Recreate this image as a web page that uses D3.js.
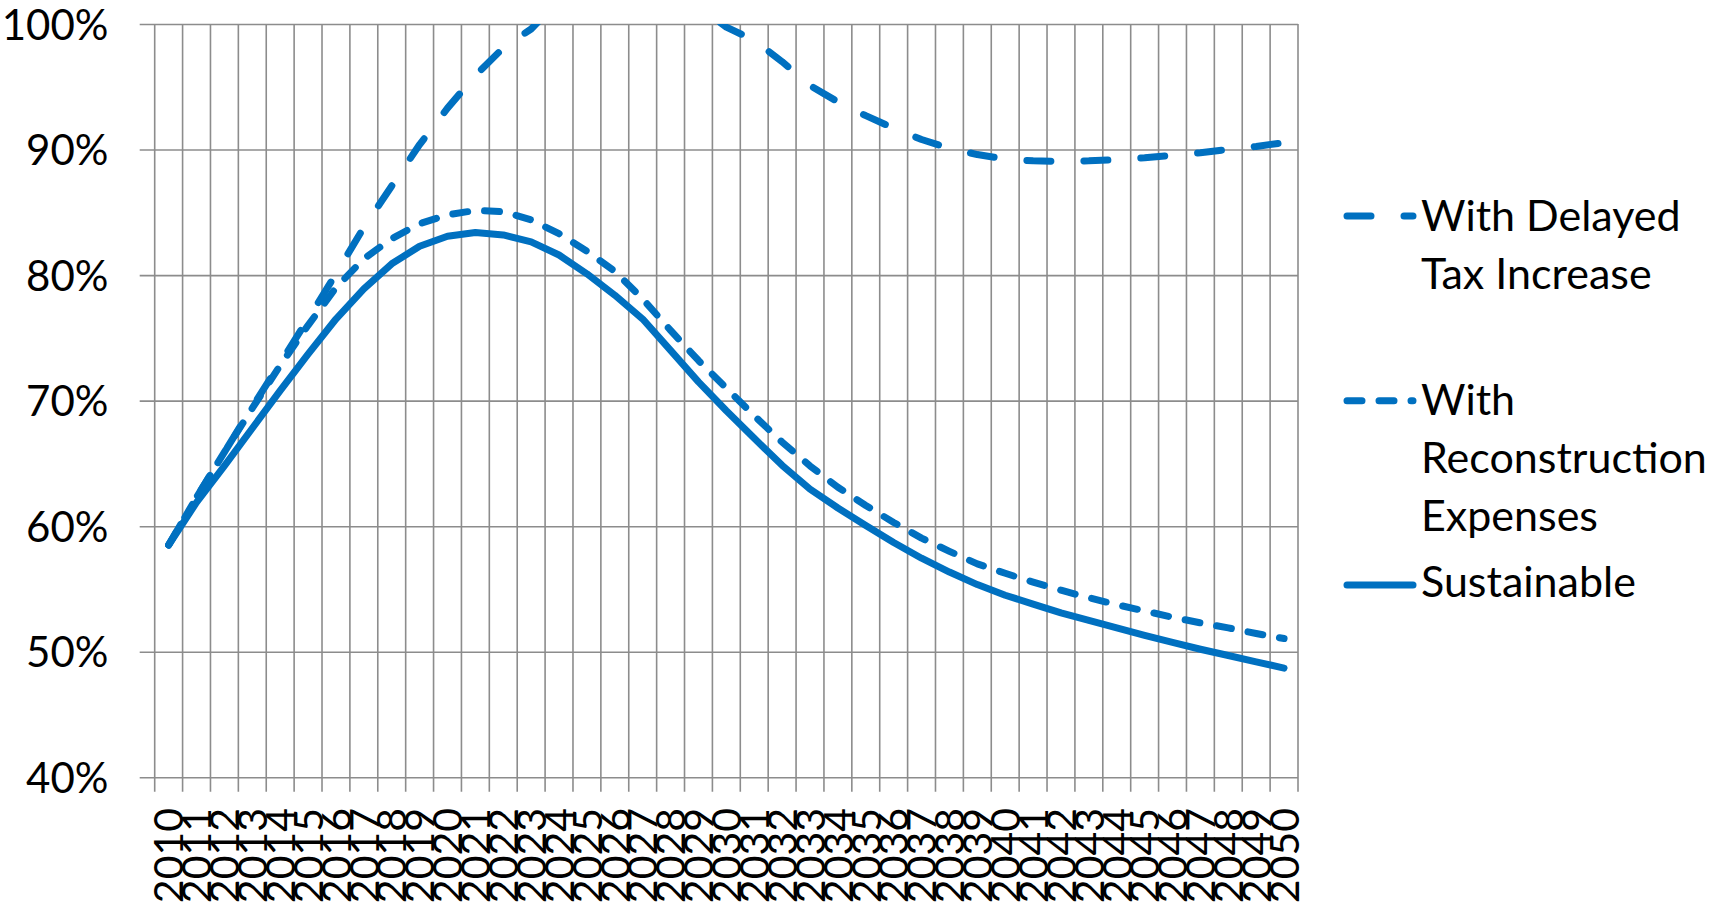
<!DOCTYPE html>
<html>
<head>
<meta charset="utf-8">
<script src="https://cdn.jsdelivr.net/npm/d3@7"></script>
<style>
  html, body { margin: 0; padding: 0; background: #ffffff; overflow: hidden; }
  svg { display: block; font-family: Lato, "Open Sans", sans-serif; }
</style>
</head>
<body>
<svg id="chart" width="1710" height="905"></svg>
<script>
// Debt ratio projections, percent, 2010-2050
const years = ["2010","2011","2012","2013","2014","2015","2016","2017","2018","2019",
               "2020","2021","2022","2023","2024","2025","2026","2027","2028","2029",
               "2030","2031","2032","2033","2034","2035","2036","2037","2038","2039",
               "2040","2041","2042","2043","2044","2045","2046","2047","2048","2049","2050"];

const delayedTax = [58.5, 62.3, 65.9, 69.5, 73.0, 76.5, 80.1, 83.8, 87.1, 90.4,
                    93.3, 95.9, 98.1, 99.6, 101.9, 103.3, 103.9, 103.7, 102.9, 101.4,
                    99.75, 98.7, 97.0, 95.1, 93.8, 92.7, 91.7, 90.8, 90.1, 89.6,
                    89.25, 89.1, 89.05, 89.1, 89.2, 89.35, 89.55, 89.75, 90.0, 90.25, 90.55];

const reconstruction = [58.5, 62.3, 65.9, 69.4, 72.8, 76.0, 79.0, 81.3, 82.9, 84.1,
                        84.8, 85.15, 85.05, 84.4, 83.3, 81.9, 80.3, 78.1, 75.6, 73.2,
                        71.0, 68.8, 66.7, 64.8, 63.1, 61.65, 60.3, 59.05, 58.0, 57.0,
                        56.25, 55.55, 54.9, 54.3, 53.75, 53.25, 52.75, 52.3, 51.9, 51.45, 51.05];

const sustainable = [58.5, 61.9, 64.8, 67.8, 70.8, 73.7, 76.5, 78.9, 80.9, 82.3,
                     83.1, 83.4, 83.2, 82.65, 81.6, 80.1, 78.4, 76.5, 74.0, 71.5,
                     69.2, 67.0, 64.85, 62.95, 61.45, 60.05, 58.7, 57.45, 56.35, 55.35,
                     54.5, 53.8, 53.1, 52.5, 51.9, 51.3, 50.75, 50.2, 49.7, 49.2, 48.7];

const yTicks = [40, 50, 60, 70, 80, 90, 100];

const legendLabels = [
  ["With Delayed", "Tax Increase"],
  ["With", "Reconstruction", "Expenses"],
  ["Sustainable"]
];

// ---- layout ----
const plot = { left: 154.7, right: 1298, top: 24, bottom: 777.3 };
const tickLen = 15;
const lineColor = "#0070C0";
const gridColor = "#8c8c8c";
const fontSize = 42;

const svg = d3.select("#chart");

const x = d3.scaleBand().domain(years).range([plot.left, plot.right]).padding(0);
const y = d3.scaleLinear().domain([40, 100]).range([plot.bottom, plot.top]);
const bw = x.bandwidth();

// ---- y axis: gridlines with outside ticks, percent labels ----
const yAxis = d3.axisLeft(y)
  .tickValues(yTicks)
  .tickFormat(d => d + "%")
  .tickSizeInner(0)
  .tickSizeOuter(0)
  .tickPadding(plot.left - 108.5);

const gy = svg.append("g")
  .attr("transform", `translate(${plot.left},0)`)
  .call(yAxis);
gy.select(".domain").remove();
gy.selectAll(".tick line")
  .attr("x1", -tickLen)
  .attr("x2", plot.right - plot.left)
  .attr("stroke", gridColor)
  .attr("stroke-width", 1.6);
gy.selectAll(".tick text")
  .attr("fill", "#000")
  .attr("font-size", fontSize)
  .attr("font-family", "Lato, 'Open Sans', sans-serif")
  .attr("dy", "0.36em");

// ---- x axis: category boundaries as gridlines with outside ticks ----
const boundaries = years.map(d => x(d)).concat([x.range()[1]]);
svg.append("g")
  .selectAll("line")
  .data(boundaries)
  .join("line")
  .attr("x1", d => d).attr("x2", d => d)
  .attr("y1", plot.top)
  .attr("y2", plot.bottom + tickLen - 0.5)
  .attr("stroke", gridColor)
  .attr("stroke-width", 1.6);

// rotated year labels reading upward
svg.append("g")
  .selectAll("text")
  .data(years)
  .join("text")
  .attr("transform", d => `translate(${x(d) + bw / 2},808) rotate(-90)`)
  .attr("text-anchor", "end")
  .attr("dy", "0.36em")
  .attr("font-size", 41)
  .attr("fill", "#000")
  .text(d => d);

// ---- series lines, clipped to the plot area ----
svg.append("clipPath").attr("id", "plot-clip")
  .append("rect")
  .attr("x", plot.left).attr("y", plot.top)
  .attr("width", plot.right - plot.left)
  .attr("height", plot.bottom - plot.top);

const line = d3.line()
  .x((d, i) => x(years[i]) + bw / 2)
  .y(d => y(d));

const series = [
  { values: delayedTax, dash: "24,33" },
  { values: reconstruction, dash: "15,17" },
  { values: sustainable, dash: null }
];

const gLines = svg.append("g").attr("clip-path", "url(#plot-clip)");
series.forEach(s => {
  gLines.append("path")
    .datum(s.values)
    .attr("d", line)
    .attr("fill", "none")
    .attr("stroke", lineColor)
    .attr("stroke-width", 7)
    .attr("stroke-linecap", "round")
    .attr("stroke-linejoin", "round")
    .attr("stroke-dasharray", s.dash);
});

// ---- legend ----
const legendRows = [
  { symbolY: 216, baseline: 231 },
  { symbolY: 400.7, baseline: 415 },
  { symbolY: 585, baseline: 596.7 }
];
const lineGap = 58;
const gLegend = svg.append("g");
series.forEach((s, k) => {
  const r = legendRows[k];
  gLegend.append("line")
    .attr("x1", 1347).attr("x2", 1413)
    .attr("y1", r.symbolY).attr("y2", r.symbolY)
    .attr("stroke", lineColor)
    .attr("stroke-width", 7)
    .attr("stroke-linecap", "round")
    .attr("stroke-dasharray", s.dash);
  const t = gLegend.append("text")
    .attr("x", 1421)
    .attr("y", r.baseline)
    .attr("font-size", 43)
    .attr("fill", "#000");
  legendLabels[k].forEach((txt, j) => {
    t.append("tspan")
      .attr("x", 1421)
      .attr("y", r.baseline + j * lineGap)
      .text(txt);
  });
});
</script>
</body>
</html>
